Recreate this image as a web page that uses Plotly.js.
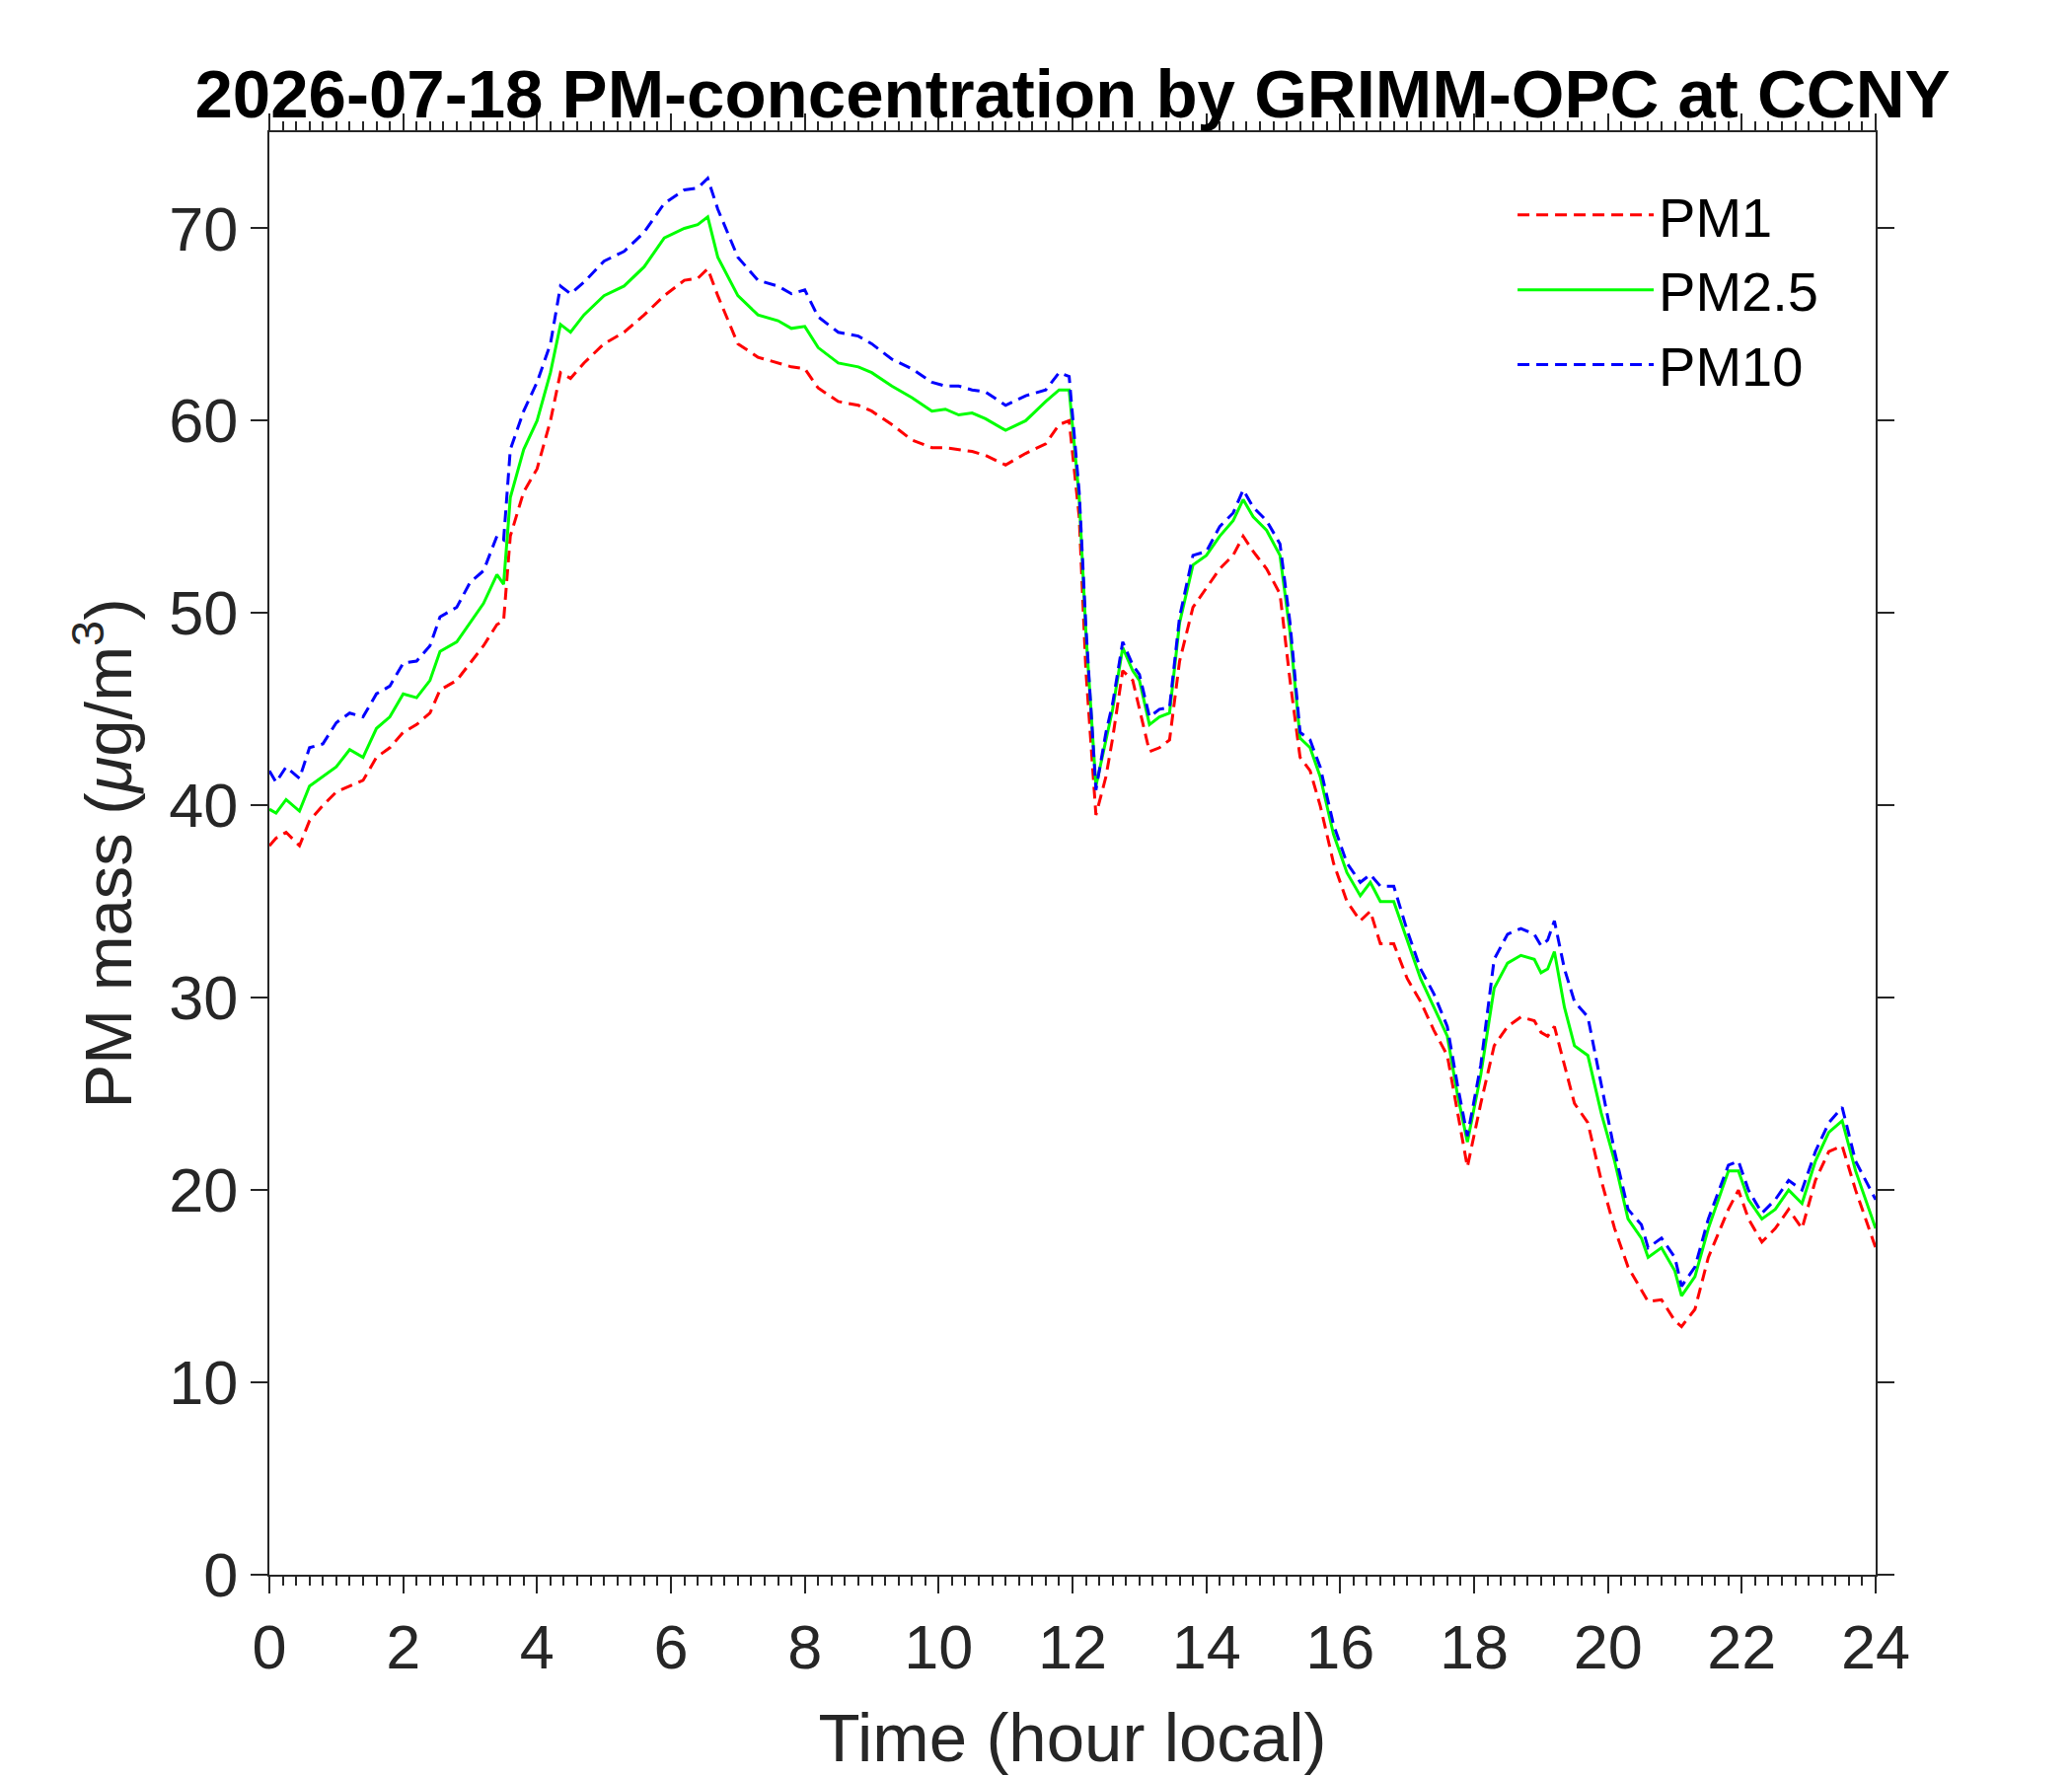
<!DOCTYPE html>
<html>
<head>
<meta charset="utf-8">
<script src="https://cdn.plot.ly/plotly-3.0.1.min.js"></script>
<style>
  html, body { margin: 0; padding: 0; background: #ffffff; }
  #chart { width: 2100px; height: 1800px; }
</style>
</head>
<body>
<div id="chart"></div>
<script>
// Time of day (hour local)
var hours = [
    0, 0.1, 0.25, 0.45, 0.6, 0.8, 1.0, 1.2, 1.4, 1.6, 1.8, 2.0, 2.2, 2.4, 2.55, 2.8, 3.0, 3.2, 3.4, 3.5,
    3.6, 3.8, 4.0, 4.2, 4.35, 4.5, 4.7, 5.0, 5.3, 5.6, 5.9, 6.2, 6.4, 6.55,
    6.7, 7.0, 7.3, 7.6, 7.8, 8.0, 8.2, 8.5, 8.8, 9.0, 9.3, 9.6, 9.9, 10.1, 10.3, 10.5, 10.7, 11.0, 11.3, 11.6, 11.8, 11.95,
    12.1, 12.2, 12.35, 12.5, 12.6, 12.75, 12.9, 13.0, 13.15, 13.3, 13.45, 13.6, 13.8, 14.0, 14.2, 14.4, 14.55, 14.7, 14.9, 15.1, 15.25,
    15.4, 15.55, 15.7, 15.9, 16.1, 16.3, 16.45, 16.6, 16.8, 17.0, 17.2, 17.4, 17.6, 17.75, 17.9, 18.1,
    18.3, 18.5, 18.7, 18.9, 19.0, 19.1, 19.2, 19.35, 19.5, 19.7, 19.9, 20.1, 20.3, 20.5, 20.6, 20.8, 21.0, 21.1,
    21.3, 21.5, 21.8, 21.95, 22.1, 22.3, 22.5, 22.7, 22.9, 23.1, 23.3, 23.5, 23.7, 24.0
];

// PM1 mass (ug/m3)
var pm1 = [
    37.9, 38.3, 38.6, 37.9, 39.2, 40.0, 40.7, 41.0, 41.3, 42.5, 43.0, 43.8, 44.2, 44.8, 46.0, 46.5, 47.4, 48.3, 49.4, 49.6,
    54.0, 56.3, 57.5, 60.0, 62.5, 62.2, 63.0, 64.0, 64.6, 65.5, 66.5, 67.3, 67.4, 67.9,
    66.5, 64.0, 63.3, 63.0, 62.8, 62.7, 61.7, 61.0, 60.8, 60.5, 59.8, 59.0, 58.6, 58.6, 58.5, 58.4, 58.2, 57.7, 58.3, 58.8, 59.8, 60.0,
    55.0, 47.0, 39.5, 41.5, 43.5, 47.0, 46.5, 45.0, 42.8, 43.0, 43.4, 47.5, 50.3, 51.3, 52.3, 53.0, 54.0, 53.2, 52.3, 51.0, 46.5,
    42.5, 41.8, 40.0, 37.0, 35.0, 34.0, 34.5, 32.8, 32.8, 31.0, 29.8, 28.3, 27.0, 24.0, 21.2, 24.5,
    27.5, 28.5, 29.0, 28.8, 28.2, 28.0, 28.5, 26.5, 24.5, 23.5, 20.5, 18.0, 16.0, 14.8, 14.2, 14.3, 13.2, 12.9,
    13.8, 16.5, 19.0, 20.0, 18.5, 17.3, 18.0, 19.0, 18.0, 20.5, 22.0, 22.3, 20.0, 17.0
];

// PM2.5 mass (ug/m3)
var pm25 = [
    39.8, 39.6, 40.3, 39.7, 41.0, 41.5, 42.0, 42.9, 42.5, 44.0, 44.6, 45.8, 45.6, 46.5, 48.0, 48.5, 49.5, 50.5, 52.0, 51.5,
    56.0, 58.5, 60.0, 62.5, 65.0, 64.6, 65.5, 66.5, 67.0, 68.0, 69.5, 70.0, 70.2, 70.6,
    68.5, 66.5, 65.5, 65.2, 64.8, 64.9, 63.8, 63.0, 62.8, 62.5, 61.8, 61.2, 60.5, 60.6, 60.3, 60.4, 60.1, 59.5, 60.0, 61.0, 61.6, 61.6,
    56.0, 49.0, 41.0, 43.5, 45.0, 48.2, 47.0, 46.5, 44.2, 44.6, 44.8, 49.5, 52.5, 53.0, 54.0, 54.8, 55.9, 55.0, 54.3, 53.0, 49.0,
    43.5, 43.0, 41.5, 38.5, 36.5, 35.3, 36.0, 35.0, 35.0, 33.0, 31.0, 29.5, 28.0, 25.0, 22.5, 26.0,
    30.5, 31.8, 32.2, 32.0, 31.3, 31.5, 32.4, 29.5, 27.5, 27.0, 24.0, 21.5, 18.5, 17.5, 16.5, 17.0, 15.8, 14.5,
    15.5, 18.0, 21.0, 21.0, 19.5, 18.5, 19.0, 20.0, 19.3, 21.5, 23.0, 23.6, 21.0, 18.0
];

// PM10 mass (ug/m3)
var pm10 = [
    41.8, 41.2, 42.0, 41.4, 43.0, 43.2, 44.3, 44.8, 44.6, 45.8, 46.2, 47.4, 47.5, 48.3, 49.8, 50.3, 51.6, 52.2, 54.0, 53.8,
    58.5, 60.5, 62.0, 64.0, 67.0, 66.6, 67.2, 68.3, 68.8, 69.8, 71.3, 72.0, 72.1, 72.6,
    71.0, 68.5, 67.3, 67.0, 66.6, 66.8, 65.4, 64.6, 64.4, 64.0, 63.2, 62.7, 62.0, 61.8, 61.8, 61.6, 61.5, 60.8, 61.3, 61.6, 62.5, 62.3,
    56.3, 49.3, 40.8, 43.8, 45.3, 48.5, 47.3, 46.8, 44.6, 45.0, 45.1, 49.8, 53.0, 53.2, 54.5, 55.2, 56.4, 55.5, 54.8, 53.6, 49.5,
    43.8, 43.4, 42.0, 39.0, 37.0, 36.0, 36.4, 35.8, 35.8, 33.5, 31.5, 30.2, 28.5, 25.5, 22.8, 26.5,
    32.0, 33.3, 33.6, 33.3, 32.7, 33.0, 34.0, 31.5, 29.8, 29.0, 25.5, 22.0, 19.0, 18.2, 17.0, 17.5, 16.5, 15.0,
    16.0, 18.5, 21.3, 21.5, 20.0, 18.8, 19.5, 20.5, 20.0, 22.0, 23.5, 24.3, 21.5, 19.5
];

// Tick values for both axes
var xTicks = [0, 2, 4, 6, 8, 10, 12, 14, 16, 18, 20, 22, 24];
var yTicks = [0, 10, 20, 30, 40, 50, 60, 70];

var fontFamily = 'Liberation Sans, Arial, Helvetica, sans-serif';
var axisColor = '#262626';

var trace1 = {
    x: hours,
    y: pm1,
    name: 'PM1',
    type: 'scatter',
    mode: 'lines',
    line: { color: '#ff0000', width: 3, dash: '12px,7px' }
};

var trace2 = {
    x: hours,
    y: pm25,
    name: 'PM2.5',
    type: 'scatter',
    mode: 'lines',
    line: { color: '#00ff00', width: 3 }
};

var trace3 = {
    x: hours,
    y: pm10,
    name: 'PM10',
    type: 'scatter',
    mode: 'lines',
    line: { color: '#0000ff', width: 3, dash: '12px,7px' }
};

var data = [trace1, trace2, trace3];

var layout = {
    width: 2100,
    height: 1800,
    margin: { l: 273, r: 199, t: 134, b: 204 },
    paper_bgcolor: '#ffffff',
    plot_bgcolor: '#ffffff',
    font: { family: fontFamily, color: axisColor },
    title: {
        text: '<b>2026-07-18 PM-concentration by GRIMM-OPC at CCNY</b>',
        font: { family: fontFamily, size: 69, color: '#000000' },
        x: 0.5,
        xref: 'paper',
        xanchor: 'center',
        y: 1 - 95 / 1800,
        yref: 'container',
        yanchor: 'middle'
    },
    xaxis: {
        range: [0, 24],
        tickvals: xTicks,
        ticks: 'outside',
        ticklen: 17,
        tickwidth: 2,
        tickcolor: axisColor,
        minor: { dtick: 0.2, ticks: 'outside', ticklen: 9, tickwidth: 2, tickcolor: axisColor },
        showline: true,
        linecolor: axisColor,
        linewidth: 2,
        mirror: 'ticks',
        showgrid: false,
        zeroline: false,
        tickfont: { family: fontFamily, size: 63, color: axisColor },
        title: {
            text: 'Time (hour local)',
            font: { family: fontFamily, size: 69, color: axisColor },
            standoff: 34
        }
    },
    yaxis: {
        range: [0, 75],
        tickvals: yTicks,
        ticks: 'outside',
        ticklen: 17,
        tickwidth: 2,
        tickcolor: axisColor,
        showline: true,
        linecolor: axisColor,
        linewidth: 2,
        mirror: 'ticks',
        showgrid: false,
        zeroline: false,
        tickfont: { family: fontFamily, size: 63, color: axisColor },
        title: {
            text: 'PM mass (<i>\u03bc</i>g/m<sup>3</sup>)',
            font: { family: fontFamily, size: 67, color: axisColor },
            standoff: 16
        }
    },
    showlegend: true,
    legend: {
        x: 0.774,
        xanchor: 'left',
        y: 0.972,
        yanchor: 'top',
        bgcolor: 'rgba(0,0,0,0)',
        borderwidth: 0,
        itemwidth: 138,
        font: { family: fontFamily, size: 56, color: '#000000' }
    }
};

var config = {
    displayModeBar: false
};

Plotly.newPlot('chart', data, layout, config);
</script>
</body>
</html>
